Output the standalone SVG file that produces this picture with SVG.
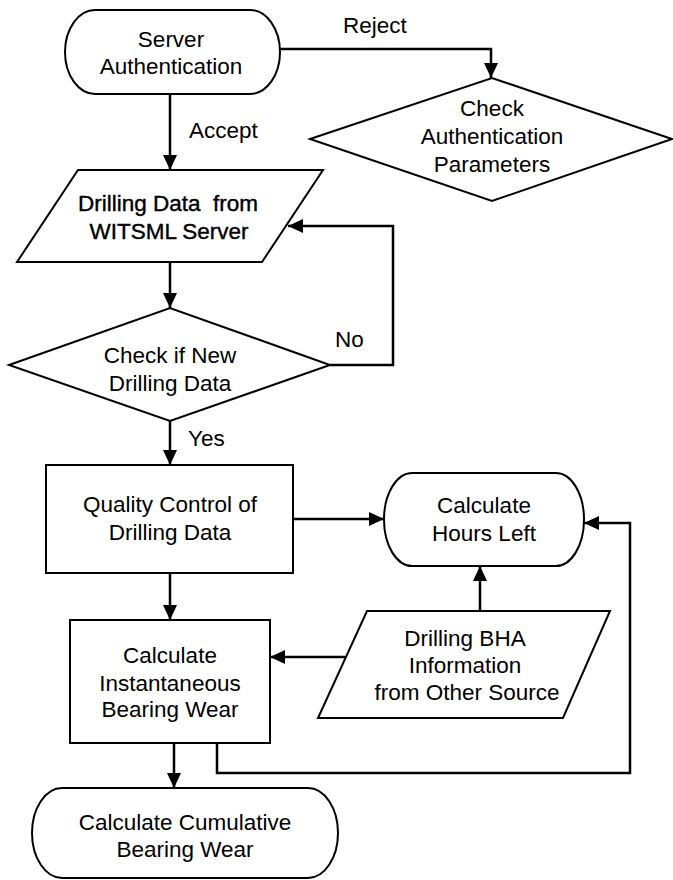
<svg xmlns="http://www.w3.org/2000/svg" width="673" height="880" viewBox="0 0 673 880">
<defs>
<marker id="arr" markerUnits="userSpaceOnUse" markerWidth="16" markerHeight="14" refX="15" refY="7" orient="auto">
<path d="M0,0 L15,7 L0,14 z" fill="#000"/>
</marker>
<style>
.s{fill:#fff;stroke:#000;stroke-width:2}
.t{font-family:"Liberation Sans",Arial,sans-serif;font-size:22.5px;fill:#000;text-anchor:middle}
.l{font-family:"Liberation Sans",Arial,sans-serif;font-size:22.5px;fill:#000}
.c{fill:none;stroke:#000;stroke-width:2.5}
.a{marker-end:url(#arr)}
</style>
</defs>
<rect width="673" height="880" fill="#fff"/>
<g id="connectors">
<path class="c a" d="M278,49 H491 V78"/>
<path class="c a" d="M170,94 V170"/>
<path class="c a" d="M170,262 V308"/>
<path class="c a" d="M330,365 H393 V226 H288"/>
<path class="c a" d="M170,421 V465"/>
<path class="c a" d="M293,519 H384"/>
<path class="c a" d="M170,573 V620"/>
<path class="c a" d="M345,657 H270"/>
<path class="c a" d="M480,611 V566"/>
<path class="c a" d="M217,743 V773 H630 V523 H584"/>
<path class="c a" d="M174,743 V788"/>
<text class="l" x="343" y="33">Reject</text>
<text class="l" x="189" y="138">Accept</text>
<text class="l" x="335" y="347">No</text>
<text class="l" x="188" y="446">Yes</text>
</g>
<g id="server-auth">
<rect class="s" x="65" y="10" width="215" height="84" rx="30" ry="42"/>
<text class="t" x="171" y="47">Server</text>
<text class="t" x="171" y="74">Authentication</text>
</g>
<g id="check-auth">
<polygon class="s" points="310,139 492,78 672,139 492,201"/>
<text class="t" x="492" y="116">Check</text>
<text class="t" x="492" y="144">Authentication</text>
<text class="t" x="492" y="172">Parameters</text>
</g>
<g id="witsml-data">
<polygon class="s" points="78,170 323,170 262,262 17,262"/>
<text class="t" x="168" y="211" stroke="#000" stroke-width="0.4" xml:space="preserve">Drilling Data  from</text>
<text class="t" x="169" y="239" stroke="#000" stroke-width="0.4">WITSML Server</text>
</g>
<g id="check-new">
<polygon class="s" points="9,365 170,308 330,365 170,421"/>
<text class="t" x="170" y="363">Check if New</text>
<text class="t" x="170" y="391">Drilling Data</text>
</g>
<g id="quality-control">
<rect class="s" x="46" y="465" width="247" height="108"/>
<text class="t" x="170" y="512">Quality Control of</text>
<text class="t" x="170" y="540">Drilling Data</text>
</g>
<g id="hours-left">
<rect class="s" x="384" y="473" width="200" height="93" rx="28" ry="46.5"/>
<text class="t" x="484" y="513">Calculate</text>
<text class="t" x="484" y="541">Hours Left</text>
</g>
<g id="instantaneous">
<rect class="s" x="70" y="620" width="200" height="123"/>
<text class="t" x="170" y="663">Calculate</text>
<text class="t" x="170" y="691">Instantaneous</text>
<text class="t" x="170" y="717">Bearing Wear</text>
</g>
<g id="bha-info">
<polygon class="s" points="367,611 610,611 563,718 318,718"/>
<text class="t" x="465" y="646">Drilling BHA</text>
<text class="t" x="465" y="673">Information</text>
<text class="t" x="467" y="700">from Other Source</text>
</g>
<g id="cumulative">
<rect class="s" x="32" y="788" width="306" height="90" rx="30" ry="45"/>
<text class="t" x="185" y="830">Calculate Cumulative</text>
<text class="t" x="185" y="857">Bearing Wear</text>
</g>
</svg>
